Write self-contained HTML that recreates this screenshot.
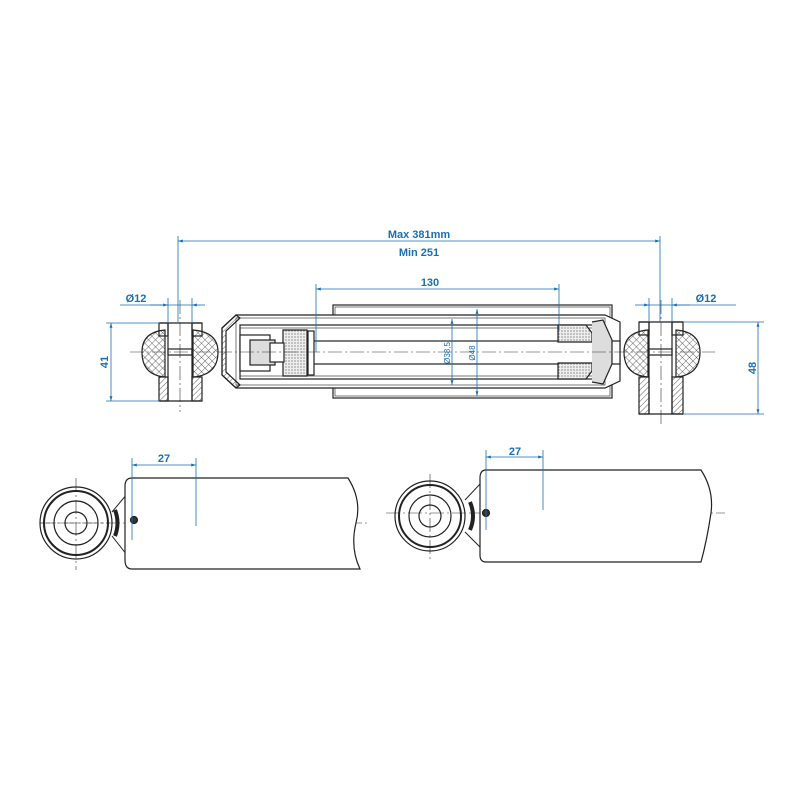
<!DOCTYPE html>
<html><head><style>html,body{margin:0;padding:0;background:#fff}</style></head><body>
<svg width="800" height="800" viewBox="0 0 800 800" xmlns="http://www.w3.org/2000/svg" font-family="Liberation Sans, sans-serif">
<defs>
<pattern id="hatch" width="4" height="4" patternUnits="userSpaceOnUse" patternTransform="rotate(45)"><line x1="0" y1="0" x2="0" y2="4" stroke="#333" stroke-width="0.8"/></pattern>
<pattern id="xh" width="5" height="5" patternUnits="userSpaceOnUse" patternTransform="rotate(45)"><path d="M0 0H5M0 0V5" stroke="#333" stroke-width="0.7" fill="none"/></pattern>
<pattern id="dots" width="3" height="3" patternUnits="userSpaceOnUse"><rect width="3" height="3" fill="#eee"/><circle cx="1" cy="1" r="0.6" fill="#555"/></pattern>
<marker id="a" viewBox="0 0 10 10" refX="10" refY="5" markerWidth="6" markerHeight="6" orient="auto-start-reverse"><path d="M0 2L10 5L0 8z" fill="#1a6fb0"/></marker>
</defs>
<g stroke="#222" stroke-width="1.2" fill="none">
<!-- dust cover -->
<rect x="333" y="305" width="279" height="93" fill="#fff"/>
<rect x="335" y="307" width="275" height="89" fill="none" stroke-width="0.6"/>
<!-- outer tube -->
<path d="M236 315 H605 L620 322 V381 L605 388 H236 L222 375 V328 Z" fill="#fff"/>
<rect x="236" y="318" width="369" height="67" stroke-width="0.6"/>
<rect x="240" y="325" width="364" height="54" fill="#fff"/>
<rect x="240" y="328" width="364" height="48" stroke-width="0.6"/>
<!-- rod -->
<rect x="300" y="341" width="320" height="23" fill="#fff"/>
<!-- piston -->
<path d="M283 330 H307 V376 H283 Z" fill="url(#dots)"/>
<rect x="308" y="331" width="6" height="44" fill="#fff"/>
<rect x="240" y="335" width="30" height="36" fill="#fff"/>
<rect x="250" y="340" width="25" height="25" fill="#ddd"/>
<rect x="270" y="343" width="14" height="19" fill="#fff"/>
<!-- right guide -->
<path d="M558 325 H586 L592 333 V342 H558 Z" fill="url(#dots)"/>
<path d="M558 379 H586 L592 371 V363 H558 Z" fill="url(#dots)"/>
<path d="M592 322 L603 320 L612 340 L612 364 L603 384 L592 382" fill="#ddd"/>
<!-- left cap -->
<path d="M222 328 L236 315 L240 318 L226 331 V372 L240 385 L236 388 L222 375 Z" fill="url(#hatch)"/>
<!-- eyes -->
<path d="M142 352 Q142 332 165 330 V377 Q142 375 142 352Z" fill="url(#xh)"/>
<path d="M218 352 Q218 332 193 330 V377 Q218 375 218 352Z" fill="url(#xh)"/>
<rect x="159" y="323" width="9" height="13"/>
<rect x="192" y="323" width="10" height="13"/>
<rect x="159" y="377" width="9" height="24" fill="url(#hatch)"/>
<rect x="192" y="377" width="10" height="24" fill="url(#hatch)"/>
<line x1="168" y1="323" x2="168" y2="401"/><line x1="192" y1="323" x2="192" y2="401"/>
<line x1="159" y1="323" x2="202" y2="323"/><line x1="159" y1="401" x2="202" y2="401"/>
<rect x="168" y="349" width="24" height="6"/>
<path d="M700 352 Q700 332 676 330 V377 Q700 375 700 352Z" fill="url(#xh)"/>
<path d="M624 352 Q624 332 648 330 V377 Q624 375 624 352Z" fill="url(#xh)"/>
<rect x="639" y="322" width="10" height="13"/>
<rect x="672" y="322" width="11" height="13"/>
<rect x="639" y="377" width="10" height="37" fill="url(#hatch)"/>
<rect x="672" y="377" width="11" height="37" fill="url(#hatch)"/>
<line x1="649" y1="322" x2="649" y2="414"/><line x1="672" y1="322" x2="672" y2="414"/>
<line x1="639" y1="322" x2="683" y2="322"/><line x1="639" y1="414" x2="683" y2="414"/>
<rect x="649" y="349" width="23" height="6"/>
</g>
<!-- centerlines -->
<g stroke="#333" stroke-width="0.6" stroke-dasharray="14 3 2 3" fill="none">
<line x1="130" y1="352" x2="715" y2="352"/>
<line x1="180" y1="300" x2="180" y2="412"/>
<line x1="661" y1="300" x2="661" y2="425"/>
<line x1="40" y1="523" x2="370" y2="523"/>
<line x1="76" y1="478" x2="76" y2="570"/>
<line x1="40" y1="523" x2="112" y2="523" stroke-dasharray="4 2"/>
<line x1="386" y1="513" x2="725" y2="513"/>
<line x1="430" y1="474" x2="430" y2="560"/>
</g>
<!-- bottom views -->
<g stroke="#222" stroke-width="1.2" fill="none">
<circle cx="76" cy="523" r="36"/><circle cx="76" cy="523" r="32" stroke-width="2"/>
<circle cx="76" cy="523" r="22"/><circle cx="76" cy="523" r="11"/>
<path d="M112 512 L127 494 V555 L112 536" stroke-width="1"/>
<path d="M115 510 Q120 523 115 536" stroke-width="4"/>
<path d="M132 478 H348 Q362 500 356 523 Q350 548 360 569 H132 Q125 569 125 560 V486 Q125 478 132 478Z" fill="#fff"/>
<circle cx="134" cy="520" r="3.5" fill="#333"/>
<circle cx="430" cy="516" r="35"/><circle cx="430" cy="516" r="31" stroke-width="2"/>
<circle cx="430" cy="516" r="21"/><circle cx="430" cy="516" r="11"/>
<path d="M465 500 L480 484 V547 L465 532" stroke-width="1"/>
<path d="M470 502 Q476 516 470 530" stroke-width="4"/>
<path d="M486 470 H701 Q714 490 711 513 Q707 540 701 562 H486 Q480 562 480 555 V478 Q480 470 486 470Z" fill="#fff"/>
<circle cx="486" cy="513" r="3.5" fill="#333"/>
</g>
<!-- dimensions -->
<g stroke="#1a6fb0" stroke-width="0.8" fill="none">
<line x1="178" y1="236" x2="178" y2="322"/><line x1="660" y1="236" x2="660" y2="322"/>
<line x1="178" y1="241" x2="660" y2="241" marker-start="url(#a)" marker-end="url(#a)"/>
<line x1="316" y1="284" x2="316" y2="352"/><line x1="559" y1="284" x2="559" y2="330"/>
<line x1="316" y1="289" x2="559" y2="289" marker-start="url(#a)" marker-end="url(#a)"/>
<line x1="168" y1="298" x2="168" y2="323"/><line x1="192" y1="298" x2="192" y2="323"/>
<line x1="120" y1="305" x2="192" y2="305"/>
<line x1="150" y1="305" x2="168" y2="305" marker-end="url(#a)"/><line x1="205" y1="305" x2="192" y2="305" marker-end="url(#a)"/>
<line x1="649" y1="298" x2="649" y2="322"/><line x1="672" y1="298" x2="672" y2="322"/>
<line x1="649" y1="305" x2="736" y2="305"/>
<line x1="635" y1="305" x2="649" y2="305" marker-end="url(#a)"/><line x1="690" y1="305" x2="672" y2="305" marker-end="url(#a)"/>
<line x1="106" y1="323" x2="160" y2="323"/><line x1="106" y1="401" x2="160" y2="401"/>
<line x1="111" y1="323" x2="111" y2="401" marker-start="url(#a)" marker-end="url(#a)"/>
<line x1="683" y1="322" x2="764" y2="322"/><line x1="683" y1="414" x2="764" y2="414"/>
<line x1="758" y1="322" x2="758" y2="414" marker-start="url(#a)" marker-end="url(#a)"/>
<line x1="452" y1="319" x2="452" y2="385" marker-start="url(#a)" marker-end="url(#a)"/>
<line x1="477" y1="309" x2="477" y2="396" marker-start="url(#a)" marker-end="url(#a)"/>
<line x1="132" y1="458" x2="132" y2="540"/><line x1="196" y1="458" x2="196" y2="526"/>
<line x1="132" y1="465" x2="196" y2="465" marker-start="url(#a)" marker-end="url(#a)"/>
<line x1="486" y1="450" x2="486" y2="530"/><line x1="543" y1="450" x2="543" y2="510"/>
<line x1="486" y1="457" x2="543" y2="457" marker-start="url(#a)" marker-end="url(#a)"/>
</g>
<g fill="#1a6fb0" font-weight="bold" font-size="11" text-anchor="middle">
<text x="419" y="238">Max 381mm</text>
<text x="419" y="256">Min 251</text>
<text x="430" y="286">130</text>
<text x="136" y="302">Ø12</text>
<text x="706" y="302">Ø12</text>
<text x="164" y="462">27</text>
<text x="515" y="455">27</text>
<text transform="translate(108 362) rotate(-90)">41</text>
<text transform="translate(756 368) rotate(-90)">48</text>
<text transform="translate(450 353) rotate(-90)" font-size="8" font-weight="normal">Ø38,5</text>
<text transform="translate(475 353) rotate(-90)" font-size="8" font-weight="normal">Ø48</text>
</g>
</svg>
</body></html>
